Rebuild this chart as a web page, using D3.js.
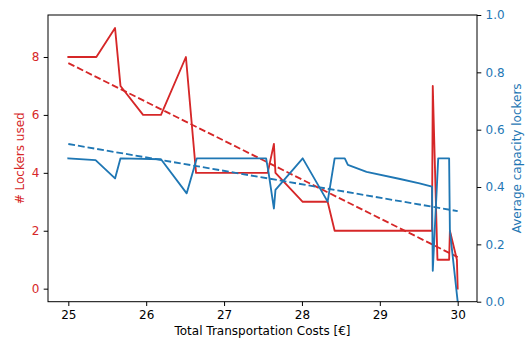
<!DOCTYPE html>
<html>
<head>
<meta charset="utf-8">
<script src="https://cdn.jsdelivr.net/npm/d3@7"></script>
<style>
  html, body { margin: 0; padding: 0; background: #fff; }
  svg { display: block; font-family: "DejaVu Sans", sans-serif; }
</style>
</head>
<body>
<svg id="chart" width="526" height="342"></svg>
<script>
// Number of lockers used versus total transportation cost
const lockerCosts = [25.0, 25.36, 25.6, 25.67, 25.96, 26.19, 26.51, 26.64, 27.56, 27.64, 27.66, 28.01, 28.33, 28.42, 29.67, 29.68, 29.74, 29.89, 29.90, 29.99, 30.0];
const lockersUsed = [8, 8, 9, 7, 6, 6, 8, 4, 4, 5, 4, 3, 3, 2, 2, 7, 1, 1, 2, 1, 0];

// Average capacity utilisation of the lockers versus total transportation cost
const capacityCosts = [25.0, 25.35, 25.6, 25.67, 26.19, 26.52, 26.65, 27.54, 27.57, 27.64, 27.66, 28.01, 28.33, 28.42, 28.55, 28.59, 28.83, 29.26, 29.51, 29.67, 29.68, 29.75, 29.89, 29.90, 30.0];
const avgCapacity = [0.5, 0.494, 0.43, 0.5, 0.497, 0.378, 0.5, 0.5, 0.453, 0.325, 0.39, 0.5, 0.349, 0.5, 0.5, 0.477, 0.453, 0.428, 0.413, 0.401, 0.108, 0.5, 0.5, 0.248, 0.0];

// Linear trend lines (end points)
const trendCosts = [25.0, 30.0];
const lockersTrend = [7.79, 1.09];
const capacityTrend = [0.55, 0.316];

// Tick values
const costTicks = [25, 26, 27, 28, 29, 30];
const lockerTicks = [0, 2, 4, 6, 8];
const capacityTicks = [0, 0.2, 0.4, 0.6, 0.8, 1.0];

const RED = "#d62728";
const BLUE = "#1f77b4";
const FONT = 12;
const TICK = 4.3;
const PAD = 4.3;

const plot = { left: 48, right: 477, top: 15, bottom: 301.7 };

const svg = d3.select("#chart");

const x = d3.scaleLinear().domain([24.739, 30.248]).range([plot.left, plot.right]);
const yL = d3.scaleLinear().domain([-0.45, 9.45]).range([plot.bottom, plot.top]);
const yR = d3.scaleLinear().domain([0, 1]).range([plot.bottom, plot.top]);

function styleAxis(g, color) {
  g.select(".domain").remove();
  g.selectAll(".tick line").attr("stroke", "#000").attr("stroke-width", 1);
  g.selectAll(".tick text")
    .attr("fill", color)
    .attr("font-size", FONT)
    .attr("font-family", "DejaVu Sans, sans-serif");
}

// Bottom axis
svg.append("g")
  .attr("transform", `translate(0,${plot.bottom})`)
  .call(d3.axisBottom(x).tickValues(costTicks).tickFormat(d3.format("d")).tickSize(TICK).tickPadding(PAD))
  .call(g => styleAxis(g, "#000"));

// Left axis
svg.append("g")
  .attr("transform", `translate(${plot.left},0)`)
  .call(d3.axisLeft(yL).tickValues(lockerTicks).tickFormat(d3.format("d")).tickSize(TICK).tickPadding(PAD))
  .call(g => styleAxis(g, RED));

// Right axis
svg.append("g")
  .attr("transform", `translate(${plot.right},0)`)
  .call(d3.axisRight(yR).tickValues(capacityTicks).tickFormat(d3.format(".1f")).tickSize(TICK).tickPadding(PAD))
  .call(g => styleAxis(g, BLUE));

// Series
const lineL = d3.line().x(d => x(d[0])).y(d => yL(d[1]));
const lineR = d3.line().x(d => x(d[0])).y(d => yR(d[1]));

const clip = svg.append("clipPath").attr("id", "plotclip")
  .append("rect")
  .attr("x", plot.left).attr("y", plot.top)
  .attr("width", plot.right - plot.left).attr("height", plot.bottom - plot.top);

const marks = svg.append("g").attr("clip-path", "url(#plotclip)");

marks.append("path")
  .datum(d3.zip(lockerCosts, lockersUsed))
  .attr("d", lineL)
  .attr("fill", "none").attr("stroke", RED).attr("stroke-width", 1.85)
  .attr("stroke-linejoin", "round").attr("stroke-linecap", "square");

marks.append("path")
  .datum(d3.zip(trendCosts, lockersTrend))
  .attr("d", lineL)
  .attr("fill", "none").attr("stroke", RED).attr("stroke-width", 1.85)
  .attr("stroke-dasharray", "6.8,2.95");

marks.append("path")
  .datum(d3.zip(capacityCosts, avgCapacity))
  .attr("d", lineR)
  .attr("fill", "none").attr("stroke", BLUE).attr("stroke-width", 1.85)
  .attr("stroke-linejoin", "round").attr("stroke-linecap", "square");

marks.append("path")
  .datum(d3.zip(trendCosts, capacityTrend))
  .attr("d", lineR)
  .attr("fill", "none").attr("stroke", BLUE).attr("stroke-width", 1.85)
  .attr("stroke-dasharray", "6.8,2.95");

// Frame
svg.append("rect")
  .attr("x", plot.left).attr("y", plot.top)
  .attr("width", plot.right - plot.left).attr("height", plot.bottom - plot.top)
  .attr("fill", "none").attr("stroke", "#000").attr("stroke-width", 1);

// Axis titles
svg.append("text")
  .attr("x", (plot.left + plot.right) / 2).attr("y", 335)
  .attr("text-anchor", "middle").attr("font-size", FONT).attr("fill", "#000")
  .text("Total Transportation Costs [€]");

svg.append("text")
  .attr("transform", `translate(24,${(plot.top + plot.bottom) / 2}) rotate(-90)`)
  .attr("text-anchor", "middle").attr("font-size", FONT).attr("fill", RED)
  .text("# Lockers used");

svg.append("text")
  .attr("transform", `translate(520.5,${(plot.top + plot.bottom) / 2}) rotate(-90)`)
  .attr("text-anchor", "middle").attr("font-size", FONT).attr("fill", BLUE)
  .text("Average capacity lockers");
</script>
</body>
</html>
